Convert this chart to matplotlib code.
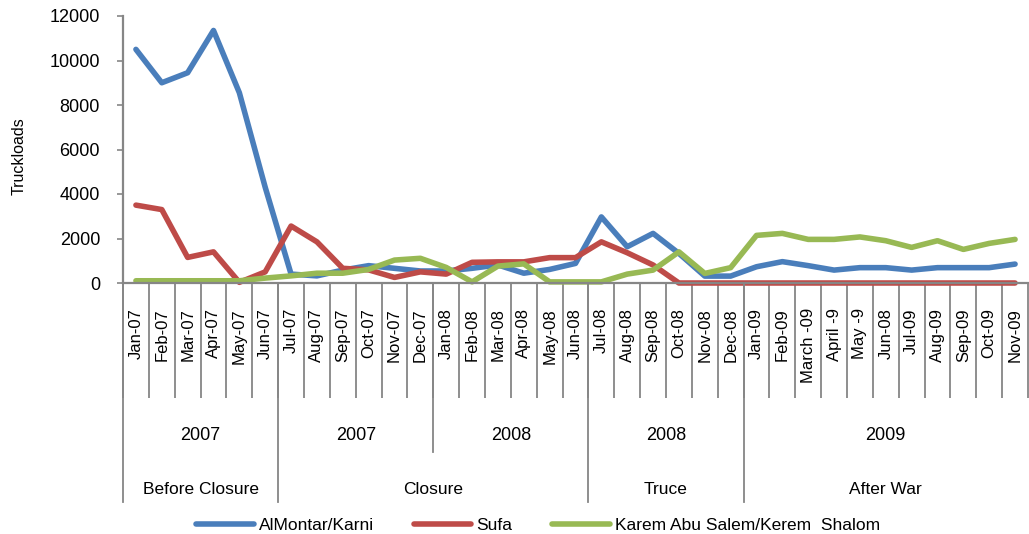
import numpy as np
import matplotlib
matplotlib.use("Agg")
import matplotlib.pyplot as plt
from matplotlib.transforms import blended_transform_factory

plt.rcParams['font.family'] = ['Liberation Sans', 'DejaVu Sans']

months = ['Jan-07', 'Feb-07', 'Mar-07', 'Apr-07', 'May-07', 'Jun-07',
          'Jul-07', 'Aug-07', 'Sep-07', 'Oct-07', 'Nov-07', 'Dec-07',
          'Jan-08', 'Feb-08', 'Mar-08', 'Apr-08', 'May-08', 'Jun-08',
          'Jul-08', 'Aug-08', 'Sep-08', 'Oct-08', 'Nov-08', 'Dec-08',
          'Jan-09', 'Feb-09', 'March -09', 'April -9', 'May -9', 'Jun-08',
          'Jul-09', 'Aug-09', 'Sep-09', 'Oct-09', 'Nov-09']

years = ['2007', '2007', '2008', '2008', '2009']
year_sizes = [6, 6, 6, 6, 11]
periods = ['Before Closure', 'Closure', 'Truce', 'After War']
period_sizes = [6, 12, 6, 11]

karni = [10500, 9000, 9450, 11350, 8550, 4300,
         400, 320, 580, 780, 660, 540,
         540, 660, 810, 440, 610, 880,
         2970, 1630, 2230, 1330, 310, 310,
         730, 960, 780, 580, 690, 690, 580, 690, 690, 690, 850]
sufa = [3500, 3300, 1150, 1400, 30, 500,
        2560, 1850, 660, 590, 250, 500,
        400, 930, 950, 950, 1140, 1140,
        1850, 1360, 810, 0, 0, 0,
        0, 0, 0, 0, 0, 0, 0, 0, 0, 0, 0]
kerem = [100, 100, 100, 100, 100, 220,
         320, 440, 440, 610, 1030, 1110,
         700, 50, 760, 860, 50, 50,
         50, 400, 580, 1400, 430, 690,
         2140, 2230, 1960, 1960, 2070, 1900, 1600, 1900, 1510, 1780, 1960]

W, H = 1029, 534
fig = plt.figure(figsize=(W / 100, H / 100), dpi=100)
ax = fig.add_axes([123 / W, 1 - 283 / H, 905 / W, 267 / H])

x = np.arange(len(months))
style = dict(lw=4.0, solid_joinstyle='round', solid_capstyle='round', clip_on=False)
ax.plot(x, karni, color='#4a7ebb', label='AlMontar/Karni', **style)
ax.plot(x, sufa, color='#be4b48', label='Sufa', **style)
ax.plot(x, kerem, color='#98b954', label='Karem Abu Salem/Kerem  Shalom', **style)

ax.set_xlim(-0.5, len(months) - 0.5)
ax.set_ylim(0, 12000)
ax.set_yticks(range(0, 12001, 2000))
ax.tick_params(axis='y', labelsize=13, length=4.5, width=1.2, color='#868686', pad=12)

grey = '#868686'
for s in ['top', 'right']:
    ax.spines[s].set_visible(False)
for s in ['left', 'bottom']:
    ax.spines[s].set_color(grey)
    ax.spines[s].set_linewidth(1.6)

# month labels on major ticks, month separators as long minor ticks
ax.set_xticks(x)
ax.set_xticklabels(months, rotation=90, fontsize=12, va='top')
ax.tick_params(axis='x', which='major', length=0, pad=18)
ax.set_xticks(np.arange(len(months) + 1) - 0.5, minor=True)
ax.tick_params(axis='x', which='minor', length=115 / 1.389, width=1.3, color=grey)

trans = blended_transform_factory(ax.transData, fig.transFigure)
y_axis = 1 - 283 / H
y_year_bottom = 1 - 452 / H
y_period_bottom = 1 - 502 / H

# year row
start = 0
for name, n in zip(years, year_sizes):
    fig.text(start + n / 2 - 0.5, 1 - 436 / H, name, fontsize=13, ha='center',
             va='center', transform=trans)
    start += n
ax.plot([11.5, 11.5], [y_axis, y_year_bottom], color=grey, lw=1.3,
        transform=trans, clip_on=False)

# period row
start = 0
for name, n in zip(periods, period_sizes):
    fig.text(start + n / 2 - 0.5, 1 - 489 / H, name, fontsize=12.5, ha='center',
             va='center', transform=trans)
    ax.plot([start - 0.5, start - 0.5], [y_axis, y_period_bottom], color=grey, lw=1.3,
            transform=trans, clip_on=False)
    start += n

fig.text(19 / W, 1 - 156 / H, 'Truckloads', rotation=90, fontsize=11.5,
         ha='center', va='center')

fig.legend(loc='center', bbox_to_anchor=(0.523, 9 / H), ncol=3, frameon=False,
           fontsize=12.5, handlelength=3.3, handletextpad=0.3, columnspacing=2.3)

fig.savefig('out.png', dpi=100)
